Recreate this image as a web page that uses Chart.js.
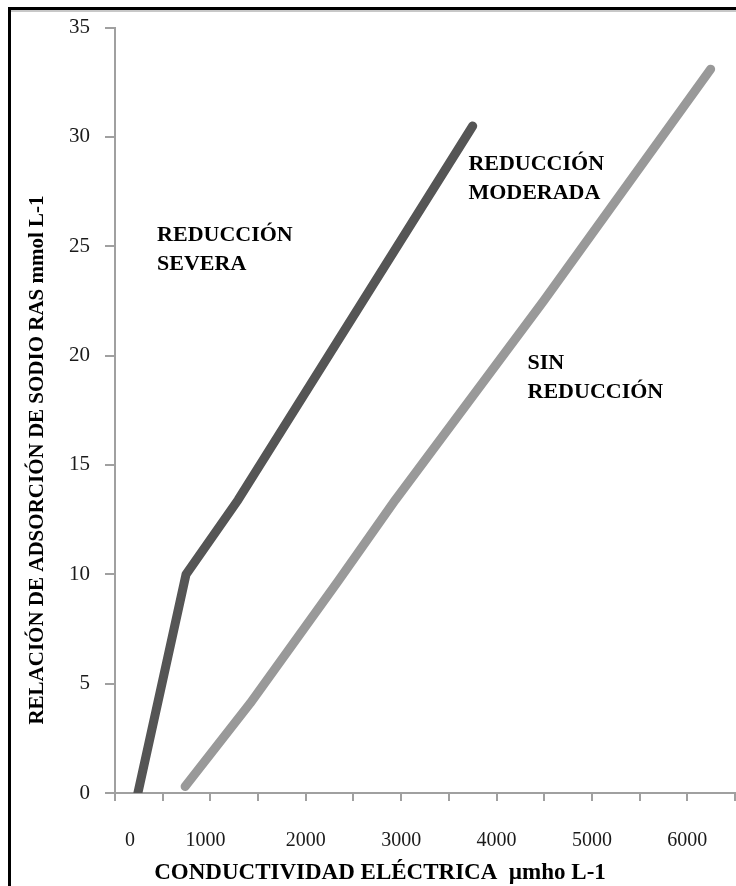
<!DOCTYPE html>
<html lang="es">
<head>
    <meta charset="UTF-8">
    <title>RAS vs CE</title>
    <style>
        body { margin: 0; background: #fff; overflow: hidden; }
        #marco { position: absolute; left: 8px; top: 7px; width: 740px; height: 900px;
                 border-left: 3px solid #000; border-top: 3px solid #000; pointer-events: none; }
        #linea { position: absolute; left: 11px; top: 10px; width: 730px; height: 2px; background: #c8c8c8; }
        canvas { position: absolute; left: 0; top: 0; }
    </style>
</head>
<body>
    <canvas id="grafico" width="736" height="886"></canvas>
    <div id="marco"></div>
    <div id="linea"></div>
    <script src="https://cdn.jsdelivr.net/npm/chart.js"></script>
    <script>
        // curva reduccion severa / moderada (oscura)
        var severaCE = [240, 745, 1290, 3750];
        var severaRAS = [0, 10, 13.4, 30.5];
        // curva sin reduccion (clara)
        var sinCE = [735, 1417, 2341, 2939, 4493, 6245];
        var sinRAS = [0.3, 4.1, 9.7, 13.4, 22.5, 33.1];

        var yTicks = [0, 5, 10, 15, 20, 25, 30, 35];
        var xLabels = [0, 1000, 2000, 3000, 4000, 5000, 6000];

        var tituloX = 'CONDUCTIVIDAD ELÉCTRICA  µmho L-1';
        var tituloY = 'RELACIÓN DE ADSORCIÓN DE SODIO RAS mmol L-1';

        var notas = [
            { lineas: ["REDUCCIÓN", "SEVERA"], x: 441, y: 25.5 },
            { lineas: ["REDUCCIÓN", "MODERADA"], x: 3705, y: 28.75 },
            { lineas: ["SIN", "REDUCCIÓN"], x: 4325, y: 19.67 }
        ];

        var serif = '"Liberation Serif", "Times New Roman", serif';

        function puntos(xs, ys) {
            return xs.map(function (x, i) { return { x: x, y: ys[i] }; });
        }

        // notas dentro del grafico y titulos de los ejes
        var textosPlugin = {
            id: 'textos',
            afterDraw: function (chart) {
                var ctx = chart.ctx;
                var sx = chart.scales.x, sy = chart.scales.y;
                ctx.save();
                ctx.fillStyle = '#000';
                ctx.font = 'bold 22px ' + serif;
                ctx.textAlign = 'left';
                ctx.textBaseline = 'middle';
                notas.forEach(function (n) {
                    var px = sx.getPixelForValue(n.x);
                    var py = sy.getPixelForValue(n.y);
                    n.lineas.forEach(function (t, i) {
                        ctx.fillText(t, px, py + i * 29);
                    });
                });

                ctx.textAlign = 'center';
                ctx.font = 'bold 23px ' + serif;
                ctx.fillText(tituloX, 380, 873);

                ctx.font = 'bold 21px ' + serif;
                ctx.translate(38, 460);
                ctx.rotate(-Math.PI / 2);
                ctx.fillText(tituloY, 0, 0);
                ctx.restore();
            }
        };

        var ctx = document.getElementById('grafico').getContext('2d');
        var myChart = new Chart(ctx, {
            type: 'line',
            data: {
                datasets: [{
                    label: 'Reducción severa',
                    data: puntos(severaCE, severaRAS),
                    borderColor: '#555555',
                    borderWidth: 9,
                    borderCapStyle: 'round',
                    borderJoinStyle: 'round',
                    pointRadius: 0,
                    tension: 0
                }, {
                    label: 'Sin reducción',
                    data: puntos(sinCE, sinRAS),
                    borderColor: '#999999',
                    borderWidth: 9,
                    borderCapStyle: 'round',
                    borderJoinStyle: 'round',
                    pointRadius: 0,
                    tension: 0
                }]
            },
            options: {
                responsive: false,
                animation: false,
                layout: { padding: { left: 0, right: 1, top: 26, bottom: 0 } },
                plugins: { legend: { display: false }, tooltip: { enabled: false } },
                scales: {
                    x: {
                        type: 'linear',
                        min: 0,
                        max: 6500,
                        afterFit: function (s) { s.height = 93; s.paddingLeft = 0; s.paddingRight = 0; },
                        ticks: {
                            stepSize: 500,
                            autoSkip: false,
                            maxRotation: 0,
                            padding: 28,
                            color: '#1a1a1a',
                            font: { family: serif, size: 20 },
                            callback: function (v) {
                                if (v === 0) return '      0';
                                if (v === 1000) return '1000  ';
                                return xLabels.indexOf(v) >= 0 ? String(v) : '';
                            }
                        },
                        grid: { drawOnChartArea: false, drawTicks: true, tickLength: 8, color: '#a0a0a0', lineWidth: 2 },
                        border: { color: '#a0a0a0', width: 2 }
                    },
                    y: {
                        min: 0,
                        max: 35,
                        afterFit: function (s) { s.width = 115; },
                        afterBuildTicks: function (s) { s.ticks = yTicks.map(function (v) { return { value: v }; }); },
                        ticks: {
                            padding: 15,
                            color: '#1a1a1a',
                            font: { family: serif, size: 21 }
                        },
                        grid: { drawOnChartArea: false, drawTicks: true, tickLength: 10, color: '#a0a0a0', lineWidth: 2 },
                        border: { color: '#a0a0a0', width: 2 }
                    }
                }
            },
            plugins: [textosPlugin]
        });
    </script>
</body>
</html>
